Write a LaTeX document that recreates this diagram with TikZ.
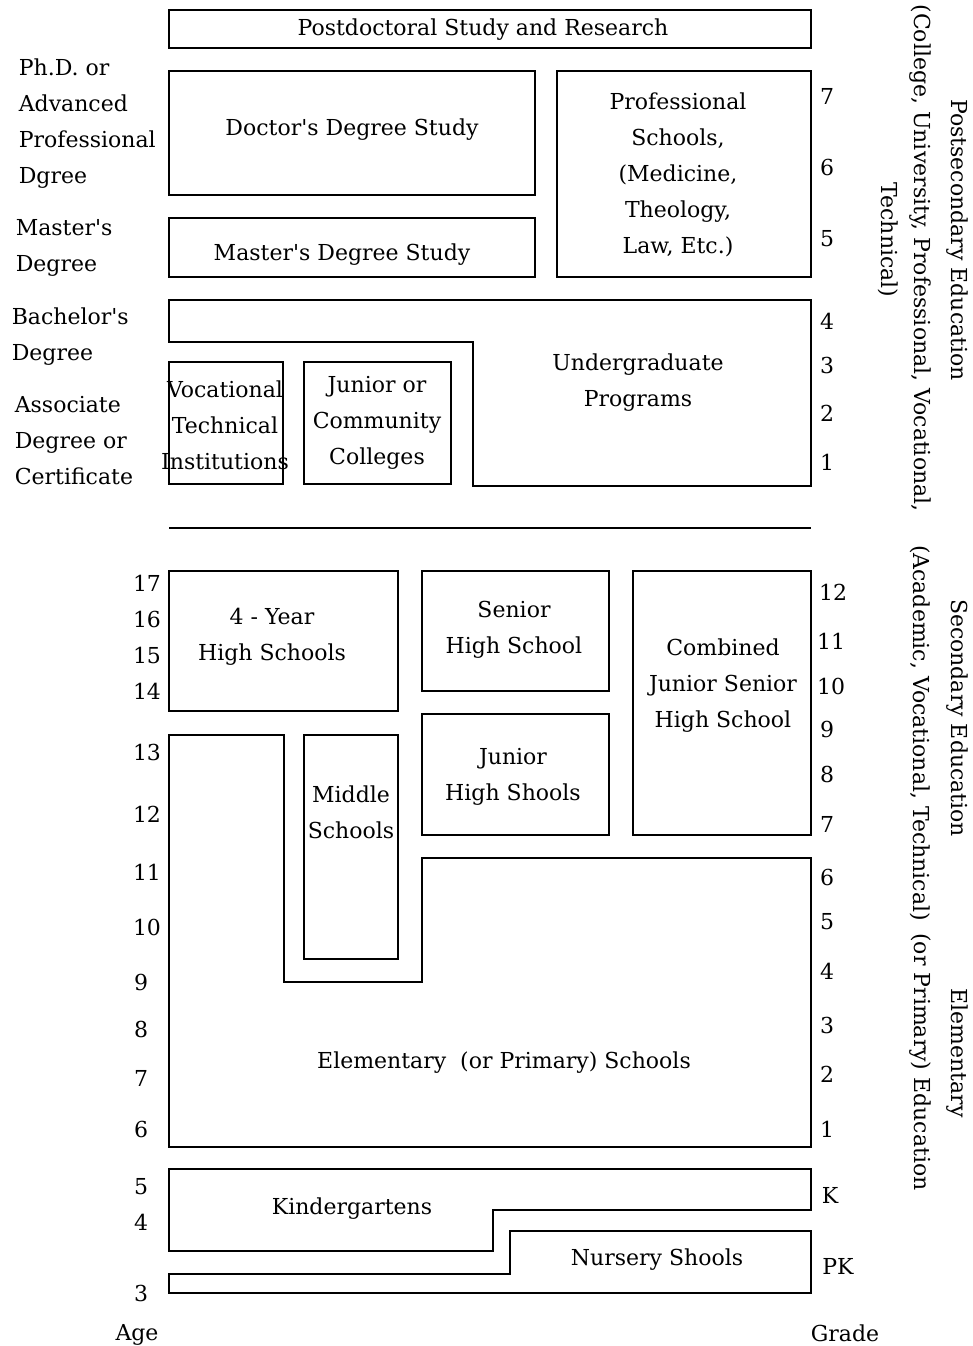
\documentclass[tikz,border=0pt]{standalone}
\usepackage{fontspec}
\setmainfont{DejaVu Serif}
\begin{document}
\begin{tikzpicture}[x=1pt,y=-1pt,line width=1.6pt,
  txt/.style={font=\fontsize{22}{36}\selectfont,inner sep=0pt,align=center},
  lft/.style={txt,anchor=west,align=left},
  rot/.style={txt,rotate=-90}]
\useasboundingbox (0,0) rectangle (973,1346);
% ---------- postsecondary ----------
\draw (169,10) rectangle (811,48);
\node[txt] (postdoc) at (483,30) {Postdoctoral Study and Research};
\draw (169,71) rectangle (535,195);
\node[txt] (doctor) at (352,130) {Doctor\textquotesingle s Degree Study};
\draw (169,218) rectangle (535,277);
\node[txt] (master) at (342,255) {Master\textquotesingle s Degree Study};
\draw (557,71) rectangle (811,277);
\node[txt] (prof) at (678,175) {Professional\\Schools,\\(Medicine,\\Theology,\\Law, Etc.)};
\draw (169,300) -- (811,300) -- (811,486) -- (473,486) -- (473,342) -- (169,342) -- cycle;
\node[txt] (ugrad) at (638,383) {Undergraduate\\Programs};
\draw (169,362) rectangle (283,484);
\node[txt] (voc) at (225,425) {Vocational\\Technical\\Institutions};
\draw (304,362) rectangle (451,484);
\node[txt] (jrcoll) at (377,423) {Junior or\\Community\\Colleges};
\draw (169,528) -- (811,528);
% ---------- secondary ----------
\draw (169,571) rectangle (398,711);
\node[txt] (hs4) at (272,637) {4 - Year\\High Schools};
\draw (422,571) rectangle (609,691);
\node[txt] (senior) at (514,630) {Senior\\High School};
\draw (422,714) rectangle (609,835);
\node[txt] (junior) at (513,777) {Junior\\High Shools};
\draw (633,571) rectangle (811,835);
\node[txt] (combined) at (723,686) {Combined\\Junior Senior\\High School};
\draw (304,735) rectangle (398,959);
\node[txt] (middle) at (351,812) {Middle\\Schools};
\draw (169,735) -- (284,735) -- (284,982) -- (422,982) -- (422,858) -- (811,858) -- (811,1147) -- (169,1147) -- cycle;
\node[txt] (elem) at (504,1063) {Elementary \ (or Primary) Schools};
% ---------- pre-primary ----------
\draw (169,1169) -- (811,1169) -- (811,1210) -- (493,1210) -- (493,1251) -- (169,1251) -- cycle;
\node[txt] (kinder) at (352,1209) {Kindergartens};
\draw (510,1231) -- (811,1231) -- (811,1293) -- (169,1293) -- (169,1274) -- (510,1274) -- cycle;
\node[txt] (nursery) at (657,1260) {Nursery Shools};
% ---------- left labels ----------
\node[lft] (phd) at (18,124) {Ph.D. or\\Advanced\\Professional\\Dgree};
\node[lft] (masd) at (15,248) {Master\textquotesingle s\\Degree};
\node[lft] (bach) at (11,337) {Bachelor\textquotesingle s\\Degree};
\node[lft] (assoc) at (14,441) {Associate\\Degree or\\Certificate};
% ages
\foreach \a/\y in {17/583,16/619,15/655,14/691,13/752,12/814,11/872,10/927}
  \node[txt] (age\a) at (147,\y) {\a};
\foreach \a/\y in {9/982,8/1029,7/1078,6/1129,5/1187,4/1222,3/1293}
  \node[txt] (age\a) at (141,\y) {\a};
\node[txt] (agelbl) at (137,1335) {Age};
% ---------- grade labels ----------
\foreach \g/\y in {7/96,6/167,5/239,4/321,3/365,2/413,1/462}
  \node[txt] (pg\g) at (827,\y) {\g};
\node[txt] (g12) at (833,592) {12};
\node[txt] (g11) at (831,641) {11};
\node[txt] (g10) at (831,686) {10};
\foreach \g/\y in {9/729,8/774,7/824,6/877,5/922,4/971,3/1025,2/1074,1/1129}
  \node[txt] (g\g) at (827,\y) {\g};
\node[txt] (gk) at (830,1195) {K};
\node[txt] (gpk) at (838,1266) {PK};
\node[txt] (gradelbl) at (845,1333) {Grade};
% ---------- rotated side labels ----------
\node[rot] (postsec) at (957,240) {Postsecondary Education};
\node[rot] (postsec2) at (920,258) {(College, University, Professional, Vocational,};
\node[rot] (postsec3) at (888,240) {Technical)};
\node[rot] (sec) at (957,718) {Secondary Education};
\node[rot] (sec2) at (920,733) {(Academic, Vocational, Technical)};
\node[rot] (elemside) at (957,1053) {Elementary};
\node[rot] (elemside2) at (920,1062) {(or Primary) Education};
\end{tikzpicture}
\end{document}
